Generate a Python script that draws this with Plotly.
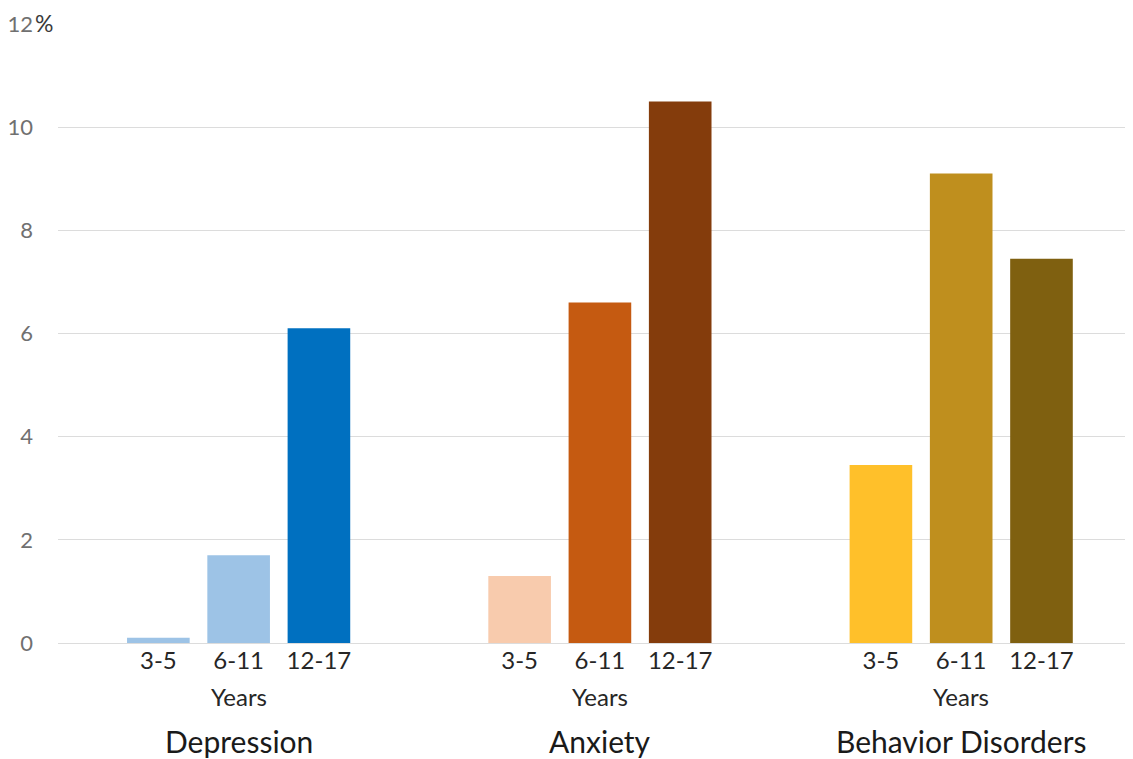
import plotly.graph_objects as go

groups = ["Depression", "Anxiety", "Behavior Disorders"]
ages = ["3-5", "6-11", "12-17"]
depression = [0.1, 1.7, 6.1]
anxiety = [1.3, 6.6, 10.5]
behavior = [3.45, 9.1, 7.45]
colors = [
    ["#9DC3E6", "#9DC3E6", "#0070C0"],
    ["#F8CBAD", "#C55A11", "#843C0C"],
    ["#FFC02A", "#BF8F1E", "#7F6010"],
]
y_ticks = [0, 2, 4, 6, 8, 10, 12]

series = [depression, anxiety, behavior]
GROUP_GAP = 4.5

xs, ys, cs, labels = [], [], [], []
for gi, vals in enumerate(series):
    for ai, v in enumerate(vals):
        xs.append(gi * GROUP_GAP + ai - 1)
        ys.append(v)
        cs.append(colors[gi][ai])
        labels.append(ages[ai])

FONT = "Lato"
fig = go.Figure()
fig.add_trace(go.Bar(x=xs, y=ys, marker=dict(color=cs, line=dict(width=0)),
                     width=0.78, hoverinfo="skip", showlegend=False))

fig.update_layout(
    width=1125, height=751,
    margin=dict(l=50, r=0, t=16, b=116),
    plot_bgcolor="white", paper_bgcolor="white",
    font=dict(family=FONT),
    xaxis=dict(range=[-2.25, 11.14], tickvals=xs, ticktext=labels,
               showgrid=False, zeroline=False, showline=False, ticks="",
               tickfont=dict(size=24, color="#262626"), ticklabelstandoff=1),
    yaxis=dict(range=[0, 12], tickvals=y_ticks,
               ticktext=[str(t) for t in y_ticks],
               showgrid=True, gridcolor="#DCDCDC", gridwidth=1.3,
               zeroline=True, zerolinecolor="#DCDCDC", zerolinewidth=1.3,
               showline=False, ticks="",
               tickfont=dict(size=22, color="#707070"), ticklabelstandoff=24),
)

for gi, g in enumerate(groups):
    cx = gi * GROUP_GAP
    fig.add_annotation(x=cx, y=0, xref="x", yref="paper", text="Years",
                       showarrow=False, yanchor="middle", yshift=-53,
                       font=dict(size=24, color="#262626", family=FONT))
    fig.add_annotation(x=cx, y=0, xref="x", yref="paper", text=g,
                       showarrow=False, yanchor="middle", yshift=-98,
                       font=dict(size=30, color="#1A1A1A", family=FONT))

fig.add_annotation(x=0, y=12, xref="paper", yref="y", text="%",
                   showarrow=False, xanchor="left", yanchor="middle",
                   xshift=-25, yshift=1,
                   font=dict(size=23, color="#3A3A3A", family=FONT))

fig.write_html("out.html", config={"displayModeBar": False})
